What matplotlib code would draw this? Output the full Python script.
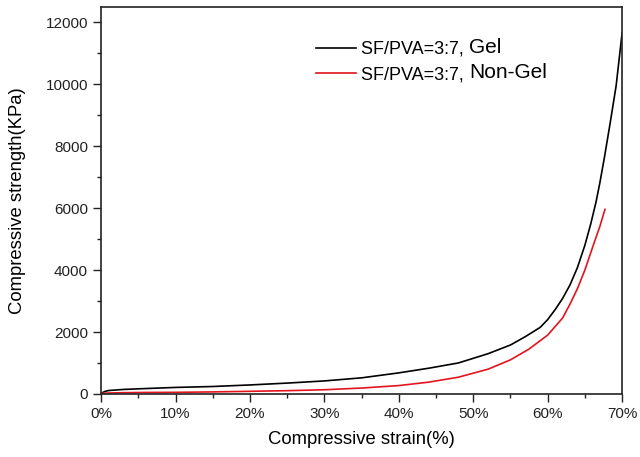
import matplotlib
matplotlib.use("Agg")
import matplotlib.pyplot as plt

plt.rcParams['font.family'] = ['Liberation Sans', 'DejaVu Sans']

# strain (%) and compressive strength (kPa)
gel_strain = [0, 0.5, 1, 3, 5, 10, 15, 20, 25, 30, 35, 40, 44, 48, 52, 55, 57,
              59, 60, 61, 62, 63, 64, 65, 65.8, 66.5, 67, 67.6, 68.4, 69.2, 70]
gel_stress = [20, 80, 110, 145, 165, 210, 240, 290, 350, 420, 520, 680, 830,
              1000, 1300, 1580, 1850, 2150, 2400, 2720, 3080, 3520, 4080, 4800,
              5500, 6200, 6800, 7600, 8750, 9950, 11650]

nongel_strain = [0, 1, 3, 6, 10, 15, 20, 25, 30, 35, 40, 44, 48, 52, 55, 57.5,
                 60, 62, 63, 64, 65, 66.2, 67, 67.7]
nongel_stress = [20, 30, 40, 48, 52, 65, 85, 105, 135, 190, 270, 380, 540, 800,
                 1100, 1450, 1900, 2450, 2900, 3400, 4000, 4850, 5400, 5960]

fig = plt.figure(figsize=(6.4, 4.57), dpi=100)
ax = fig.add_axes([0.158, 0.138, 0.814, 0.847])

ax.plot(gel_strain, gel_stress, color='black', lw=1.2, label='SF/PVA=3:7, ')
ax.plot(nongel_strain, nongel_stress, color='#e3141e', lw=1.2, label='SF/PVA=3:7, ')

ax.set_xlim(0, 70)
ax.set_ylim(0, 12500)
ax.set_xticks(range(0, 71, 10))
ax.set_xticklabels([f'{v}%' for v in range(0, 71, 10)])
ax.set_xticks(range(5, 70, 10), minor=True)
ax.set_yticks(range(0, 12001, 2000))
ax.set_yticks(range(1000, 12000, 2000), minor=True)
ax.tick_params(which='major', direction='out', length=5.5, width=1, pad=4,
               labelsize=11, colors='#222222')
ax.tick_params(which='minor', direction='out', length=3, width=1, colors='#222222')
for s in ax.spines.values():
    s.set_linewidth(1.2)
    s.set_color('#222222')

ax.set_xlabel('Compressive strain(%)', fontsize=13.3, labelpad=7)
ax.set_ylabel('Compressive strength(KPa)', fontsize=13.3, labelpad=14)

leg = ax.legend(loc='upper left', bbox_to_anchor=(0.413, 0.912), frameon=False,
                fontsize=13, handlelength=2.2, handletextpad=0.3, labelspacing=0.45,
                borderpad=0, borderaxespad=0)
fig.canvas.draw()
for txt, word in zip(leg.get_texts(), ['Gel', 'Non-Gel']):
    ax.annotate(word, xy=(1, 0.05), xycoords=txt, va='bottom', ha='left', fontsize=15)

fig.savefig('out.png', dpi=100)
